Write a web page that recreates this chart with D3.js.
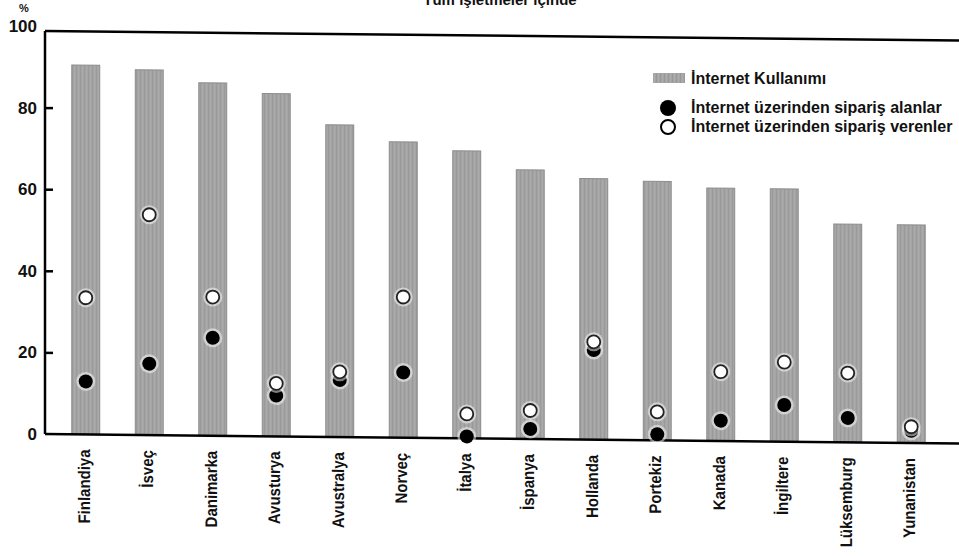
<!DOCTYPE html>
<html>
<head>
<meta charset="utf-8">
<script src="https://cdn.jsdelivr.net/npm/d3@7"></script>
<style>
  html, body { margin: 0; padding: 0; background: #fff; }
  svg { display: block; }
  text { font-family: "Liberation Sans", Arial, sans-serif; fill: #111; }
</style>
</head>
<body>
<svg id="chart" width="959" height="556"></svg>
<script>
// Countries, ordered by internet use
const countries = ["Finlandiya", "İsveç", "Danimarka", "Avusturya", "Avustralya", "Norveç", "İtalya",
  "İspanya", "Hollanda", "Portekiz", "Kanada", "İngiltere", "Lüksemburg", "Yunanistan"];
// Share of firms using the internet (%)
const internetUse = [90.5, 89.5, 86.5, 84, 76.5, 72.5, 70.5, 66, 64, 63.5, 62, 62, 53.5, 53.5];
// Share of firms receiving orders over the internet (%)
const ordersReceived = [13, 17.5, 24, 10, 14, 16, 0.5, 2.5, 22, 1.5, 5, 9, 6, 3];
// Share of firms placing orders over the internet (%)
const ordersPlaced = [33.5, 54, 34, 13, 16, 34.5, 6, 7, 24, 7, 17, 19.5, 17, 4];
const yTicks = [0, 20, 40, 60, 80, 100];
const legendLabels = ["İnternet Kullanımı", "İnternet üzerinden sipariş alanlar", "İnternet üzerinden sipariş verenler"];
const titleText = "Tüm işletmeler içinde";

const svg = d3.select("#chart");
const left = 45, bottom = 434, right = 959, frameTop = 31;

const x = d3.scaleBand().domain(countries).range([54, 943]).paddingInner(0.56).paddingOuter(0.28);
const y = d3.scaleLinear().domain([0, 100]).range([bottom, 26]);

// bar texture: fine vertical streaks
const defs = svg.append("defs");
const pat = defs.append("pattern").attr("id", "streak").attr("patternUnits", "userSpaceOnUse")
  .attr("width", 4).attr("height", 10);
pat.append("rect").attr("width", 4).attr("height", 10).attr("fill", "#a4a4a4");
pat.append("rect").attr("x", 0).attr("width", 1).attr("height", 10).attr("fill", "#999");
pat.append("rect").attr("x", 2).attr("width", 1).attr("height", 10).attr("fill", "#adadad");

// title, running off the top edge
svg.append("text").attr("x", 500).attr("y", 5).attr("text-anchor", "middle")
  .attr("font-size", 15).attr("font-weight", "bold").text(titleText);

// unit label
svg.append("text").attr("x", 24).attr("y", 12).attr("text-anchor", "middle")
  .attr("font-size", 11).attr("font-weight", "bold").text("%");

// plot group, slightly sheared like the printed page
const g = svg.append("g")
  .attr("transform", `translate(${left},${bottom}) skewY(0.6) translate(${-left},${-bottom})`);

g.selectAll("rect.bar").data(countries).join("rect").attr("class", "bar")
  .attr("x", d => x(d)).attr("width", x.bandwidth())
  .attr("y", (d, i) => y(internetUse[i])).attr("height", (d, i) => y(0) - y(internetUse[i]))
  .attr("fill", "url(#streak)").attr("stroke", "#8c8c8c").attr("stroke-width", 1);

// frame: top and bottom rules
g.append("line").attr("x1", left).attr("x2", right).attr("y1", frameTop).attr("y2", frameTop)
  .attr("stroke", "#000").attr("stroke-width", 2.5);
g.append("line").attr("x1", left).attr("x2", right).attr("y1", y(0)).attr("y2", y(0))
  .attr("stroke", "#000").attr("stroke-width", 2.5);

const cx = d => x(d) + x.bandwidth() / 2;

// received orders (filled)
g.selectAll("circle.halo-r").data(countries).join("circle").attr("class", "halo-r")
  .attr("cx", cx).attr("cy", (d, i) => y(ordersReceived[i])).attr("r", 9.5)
  .attr("fill", "#fff").attr("opacity", 0.5);
g.selectAll("circle.rec").data(countries).join("circle").attr("class", "rec")
  .attr("cx", cx).attr("cy", (d, i) => y(ordersReceived[i])).attr("r", 7)
  .attr("fill", "#000");

// placed orders (open)
g.selectAll("circle.halo-p").data(countries).join("circle").attr("class", "halo-p")
  .attr("cx", cx).attr("cy", (d, i) => y(ordersPlaced[i])).attr("r", 9.5)
  .attr("fill", "#fff").attr("opacity", 0.5);
g.selectAll("circle.pla").data(countries).join("circle").attr("class", "pla")
  .attr("cx", cx).attr("cy", (d, i) => y(ordersPlaced[i])).attr("r", 6.5)
  .attr("fill", "#fff").attr("stroke", "#222").attr("stroke-width", 1.8);

// category labels, vertical, glyphs slightly tall
g.selectAll("text.cat").data(countries).join("text").attr("class", "cat")
  .attr("transform", d => `translate(${cx(d) + 4},${bottom + 15}) rotate(-90) scale(1,1.12)`)
  .attr("text-anchor", "end").attr("font-size", 15).attr("font-weight", "bold")
  .text(d => d);

// left axis with inward ticks
const yAxis = d3.axisRight(y).tickValues(yTicks).tickSize(8).tickFormat(d3.format("d"));
const ag = svg.append("g").attr("transform", `translate(${left},0)`).call(yAxis);
ag.select(".domain").attr("stroke", "#000").attr("stroke-width", 2.5)
  .attr("d", `M0,${frameTop}V${y(0)}`);
ag.selectAll(".tick line").attr("stroke", "#000").attr("stroke-width", 2.5)
  .attr("opacity", d => (d === 0 || d === 100) ? 0 : 1);
ag.selectAll(".tick text").attr("x", -8).attr("text-anchor", "end")
  .attr("font-size", 17).attr("font-weight", "bold")
  .attr("font-family", "'Liberation Sans', Arial, sans-serif").attr("fill", "#111");

// legend
const lg = svg.append("g");
lg.append("rect").attr("x", 653).attr("y", 73).attr("width", 32).attr("height", 10)
  .attr("fill", "url(#streak)");
lg.append("circle").attr("cx", 668).attr("cy", 108).attr("r", 8).attr("fill", "#000");
lg.append("circle").attr("cx", 668).attr("cy", 127).attr("r", 7).attr("fill", "#fff")
  .attr("stroke", "#000").attr("stroke-width", 2);
lg.selectAll("text.leg").data(legendLabels).join("text").attr("class", "leg")
  .attr("x", 691).attr("y", (d, i) => [84, 113, 132][i])
  .attr("font-size", 16).attr("font-weight", "bold").text(d => d);
</script>
</body>
</html>
